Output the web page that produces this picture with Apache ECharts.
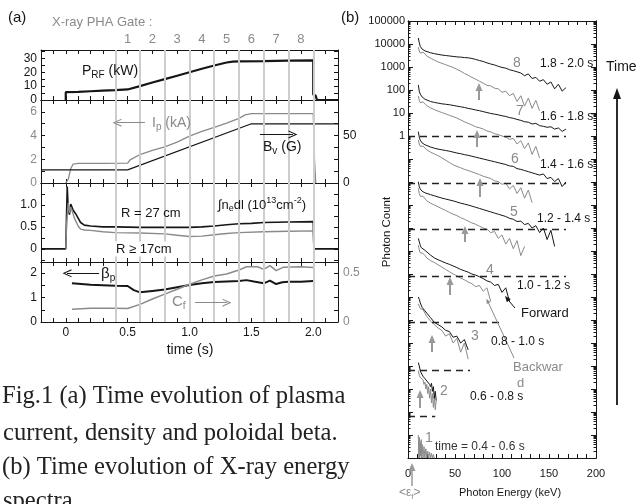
<!DOCTYPE html>
<html><head><meta charset="utf-8">
<script src="https://cdn.jsdelivr.net/npm/echarts@6/dist/echarts.min.js"></script>
<style>html,body{margin:0;padding:0;background:#fff}#c{width:636px;height:504px}</style>
</head><body><div id="c"></div><script>
// ---------------- panel (a) data ----------------
const gateLines   = [0.4, 0.6, 0.8, 1.0, 1.2, 1.4, 1.6, 1.8, 2.0];
const gateCenters = [0.5, 0.7, 0.9, 1.1, 1.3, 1.5, 1.7, 1.9];
const gateLabels  = ['1', '2', '3', '4', '5', '6', '7', '8'];
const timeLabels  = [0, 0.5, 1.0, 1.5, 2.0];

const prfT = [0, 0, 0.1, 0.2, 0.3, 0.4, 0.5, 0.6, 0.7, 0.8, 0.9, 1.0, 1.1, 1.2, 1.3, 1.35, 1.4, 1.6, 1.8, 2.0, 2.0, 2.02, 2.03, 2.2];
const prfV = [0, 5.6, 5.9, 6.3, 6.7, 7.1, 7.6, 10.0, 12.6, 15.0, 17.5, 20.0, 22.5, 24.8, 27.0, 27.6, 27.8, 28.0, 28.3, 28.5, 4, 3, 0, 0];

const ipT = [0.0, 0.02, 0.04, 0.06, 0.1, 0.3, 0.5, 0.52, 0.6, 0.7, 0.8, 0.9, 1.0, 1.1, 1.2, 1.3, 1.4, 1.45, 1.5, 1.7, 1.9, 2.0, 2.01, 2.02];
const ipV = [0, 0.3, 1.2, 1.6, 1.65, 1.65, 1.68, 1.95, 2.4, 2.75, 3.05, 3.45, 3.95, 4.35, 4.7, 5.05, 5.45, 5.75, 5.85, 5.85, 5.85, 5.85, 2, 0];

const bvT = [-0.2, 0.5, 1.5, 2.2];
const bvV = [13.8, 13.8, 62.4, 62.4];

const ne27T = [-0.2, 0, 0.005, 0.012, 0.02, 0.03, 0.04, 0.05, 0.06, 0.08, 0.1, 0.12, 0.15, 0.2, 0.3, 0.4, 0.6, 0.8, 1.0, 1.1, 1.2, 1.3, 1.4, 1.5, 1.6, 1.8, 2.0, 2.005, 2.2];
const ne27V = [0, 0, 0.6, 1.42, 0.9, 0.78, 1.02, 0.95, 0.88, 0.8, 0.7, 0.6, 0.54, 0.52, 0.5, 0.5, 0.49, 0.49, 0.49, 0.5, 0.52, 0.55, 0.57, 0.58, 0.6, 0.61, 0.62, 0, 0];

const ne17T = [0, 0.008, 0.02, 0.03, 0.04, 0.05, 0.07, 0.1, 0.12, 0.15, 0.2, 0.3, 0.4, 0.6, 0.8, 0.9, 1.0, 1.1, 1.2, 1.3, 1.4, 1.6, 1.8, 2.0, 2.005];
const ne17V = [0, 0.6, 1.05, 0.82, 0.95, 0.88, 0.7, 0.52, 0.45, 0.43, 0.42, 0.39, 0.37, 0.36, 0.34, 0.31, 0.28, 0.29, 0.32, 0.35, 0.37, 0.39, 0.4, 0.41, 0];

const betaT = [0.05, 0.2, 0.4, 0.5, 0.55, 0.6, 0.7, 0.8, 0.9, 1.0, 1.1, 1.2, 1.3, 1.4, 1.46, 1.52, 1.6, 1.65, 1.7, 1.75, 1.8, 1.9, 2.0];
const betaV = [1.58, 1.52, 1.48, 1.47, 1.3, 1.21, 1.27, 1.33, 1.42, 1.51, 1.58, 1.63, 1.65, 1.67, 1.71, 1.65, 1.58, 1.69, 1.55, 1.62, 1.64, 1.64, 1.67];

const cfT = [0.05, 0.2, 0.4, 0.5, 0.6, 0.7, 0.8, 0.9, 1.0, 1.1, 1.2, 1.3, 1.4, 1.46, 1.55, 1.6, 1.65, 1.7, 1.76, 1.9, 2.0];
const cfV = [0.13, 0.14, 0.14, 0.138, 0.18, 0.235, 0.285, 0.335, 0.385, 0.43, 0.47, 0.49, 0.53, 0.564, 0.564, 0.537, 0.576, 0.525, 0.56, 0.564, 0.557];

// axis ticks / labels of panel (a)
const prfTicks = [0, 5, 10, 15, 20, 25, 30, 35], prfLabels = [0, 10, 20, 30];
const ipTicks = [0, 1, 2, 3, 4, 5, 6, 7], ipLabels = [0, 2, 4, 6];
const bvTicks = [0, 12.5, 25, 37.5, 50, 62.5, 75, 87.5], bvLabels = [0, 50];
const neTicks = [-0.25, 0, 0.25, 0.5, 0.75, 1, 1.25, 1.5], neLabels = [0, 0.5, 1.0];
const betaTicks = [0, 0.5, 1, 1.5, 2], betaLabels = [0, 1, 2];
const cfTicks = [0, 0.125, 0.25, 0.375, 0.5], cfLabels = [0, 0.5];

// ---------------- panel (b) data : log10(photon count) ----------------
const specE = [11, 12, 13, 14, 15, 16, 18, 20, 24, 28, 32, 36, 40, 44, 48, 52, 56, 60, 64, 68, 72, 76, 80, 84, 88, 92, 96, 100, 104, 108, 112, 116, 120, 124, 128, 132, 136, 140, 144, 148, 152, 156, 160, 164, 168];
const fwd8 = [4.26, 4.05, 3.9, 3.82, 3.78, 3.74, 3.7, 3.66, 3.62, 3.58, 3.55, 3.52, 3.5, 3.48, 3.46, 3.44, 3.43, 3.41, 3.4, 3.37, 3.33, 3.28, 3.24, 3.18, 3.13, 3.09, 3.03, 2.98, 2.95, 2.88, 2.84, 2.79, 2.74, 2.62, 2.7, 2.5, 2.55, 2.38, 2.45, 2.25, 2.35, 2.05, 2.25, 1.95, 2.1];
const bwd8 = [3.86, 3.7, 3.6, 3.55, 3.58, 3.65, 3.6, 3.48, 3.38, 3.3, 3.22, 3.16, 3.1, 3.04, 2.98, 2.9, 2.82, 2.72, 2.64, 2.55, 2.47, 2.38, 2.3, 2.2, 2.18, 2.08, 2.05, 1.9, 1.95, 1.75, 1.85, 1.5, 1.75, 1.3, 1.65, 1.2, 1.55, 1.1];
const fwd7 = [2.22, 1.95, 1.82, 1.75, 1.7, 1.66, 1.6, 1.56, 1.5, 1.46, 1.43, 1.4, 1.38, 1.36, 1.33, 1.3, 1.27, 1.24, 1.2, 1.17, 1.13, 1.1, 1.06, 1.02, 0.98, 0.95, 0.92, 0.88, 0.85, 0.8, 0.77, 0.72, 0.68, 0.62, 0.6, 0.52, 0.55, 0.45, 0.42, 0.38, 0.4, 0.3, 0.35, 0.2, 0.3];
const bwd7 = [1.74, 1.55, 1.45, 1.4, 1.43, 1.48, 1.42, 1.32, 1.22, 1.15, 1.08, 1.02, 0.96, 0.9, 0.84, 0.78, 0.7, 0.62, 0.55, 0.48, 0.4, 0.36, 0.3, 0.22, 0.18, 0.1, 0.06, 0.0, -0.05, -0.15, -0.1, -0.35, -0.2, -0.55, -0.3, -0.8, -0.45, -0.95];
const fwd6 = [0.19, -0.05, -0.18, -0.25, -0.3, -0.33, -0.38, -0.42, -0.48, -0.53, -0.57, -0.6, -0.63, -0.66, -0.7, -0.74, -0.77, -0.81, -0.84, -0.88, -0.92, -0.96, -1.0, -1.04, -1.08, -1.12, -1.16, -1.2, -1.24, -1.3, -1.32, -1.42, -1.45, -1.5, -1.55, -1.6, -1.65, -1.7, -1.65, -1.85, -1.8, -1.98, -1.85, -2.2, -2.0];
const bwd6 = [-0.17, -0.35, -0.45, -0.5, -0.47, -0.44, -0.5, -0.6, -0.7, -0.78, -0.86, -0.95, -1.05, -1.15, -1.25, -1.32, -1.38, -1.45, -1.5, -1.56, -1.62, -1.68, -1.75, -1.8, -1.85, -1.95, -1.98, -2.1, -2.05, -2.3, -2.15, -2.5, -2.25, -2.7, -2.35, -2.9];
const fwd5 = [-1.99, -2.2, -2.3, -2.36, -2.4, -2.43, -2.47, -2.5, -2.55, -2.6, -2.65, -2.7, -2.74, -2.78, -2.82, -2.87, -2.92, -2.96, -3.0, -3.05, -3.1, -3.15, -3.2, -3.25, -3.3, -3.35, -3.4, -3.45, -3.5, -3.58, -3.62, -3.72, -3.7, -3.85, -3.8, -4.0, -3.9, -4.2, -4.0, -4.5, -4.1, -4.8];
const bwd5 = [-2.28, -2.5, -2.62, -2.68, -2.65, -2.62, -2.7, -2.82, -2.92, -3.0, -3.08, -3.16, -3.24, -3.32, -3.4, -3.46, -3.55, -3.62, -3.7, -3.78, -3.84, -3.92, -4.0, -4.05, -4.2, -4.15, -4.45, -4.3, -4.7, -4.45, -4.9, -4.55, -5.2, -4.8];
const fwd4 = [-4.45, -4.6, -4.75, -4.85, -4.9, -4.93, -4.97, -5.05, -5.18, -5.3, -5.38, -5.45, -5.52, -5.58, -5.65, -5.72, -5.8, -5.86, -5.92, -6.0, -6.05, -6.12, -6.2, -6.3, -6.35, -6.5, -6.45, -6.8, -6.6, -7.2];
const bwd4 = [-4.75, -4.95, -5.08, -5.15, -5.12, -5.1, -5.2, -5.3, -5.42, -5.5, -5.6, -5.7, -5.8, -5.9, -6.0, -6.08, -6.18, -6.25, -6.35, -6.42, -6.55, -6.5, -6.75, -6.6, -7.2];
const fwd3 = [-7.0, -7.1, -7.25, -7.35, -7.45, -7.5, -7.6, -7.7, -7.9, -8.1, -8.2, -8.3, -8.45, -8.5, -8.75, -8.7, -9.0, -8.85, -9.3];
const bwd3 = [-7.3, -7.4, -7.5, -7.55, -7.5, -7.55, -7.7, -7.85, -8.05, -8.2, -8.35, -8.45, -8.7, -8.6, -9.0, -8.8, -9.4, -9.0, -9.7];
const fineE = [11, 12, 13, 14, 15, 16, 17, 18, 19, 20, 21, 22, 23, 24, 25, 26, 27, 28, 29, 30];
const fwd2 = [-9.85, -10.0, -10.2, -10.3, -10.35, -10.45, -10.4, -10.55, -10.6, -10.5, -10.7, -10.65, -10.8, -10.9, -10.75, -11.1, -10.9, -11.4, -11.1, -11.5];
const bwd2 = [-10.2, -10.4, -10.5, -10.55, -10.5, -10.6, -10.8, -10.7, -11.0, -10.8, -11.2, -10.9, -11.4, -11.0, -11.6, -11.2, -11.8, -11.3, -11.9, -11.5];
const spikeE = [11, 11.5, 12, 12.5, 13, 13.5, 14, 14.5, 15, 16, 17, 18, 19, 20, 21, 22, 23, 24, 25, 26, 27, 28];
const spec1 = [-13.0, -14, -13.1, -14, -13.3, -13.9, -13.2, -14, -13.4, -14, -13.5, -14, -13.6, -14, -13.7, -14, -13.75, -14, -13.8, -14, -13.85, -14];

// dashed reference levels (log10) and their right ends (keV)
const refLog = [0, -2.04, -4.04, -6.09, -8.09, -10.17, -12.17];
const refEnd = [168, 168, 168, 168, 101, 66, 29];
// <eps_f> arrows : energy, log10 tail, log10 head
const efE = [75.5, 73.4, 76.6, 60.6, 44.7, 25.5, 12.8];
const efTail = [1.565, -0.478, -2.652, -4.609, -6.913, -9.39, -11.826];
const efHead = [2.13, 0.087, -2.0, -4.087, -6.304, -8.826, -11.217];

const decades = [1e-14, 1e-13, 1e-12, 1e-11, 1e-10, 1e-9, 1e-8, 1e-7, 1e-6, 1e-5, 1e-4, 1e-3, 1e-2, 1e-1, 1, 10, 100, 1000, 1e4, 1e5];
const countLabels = [1, 10, 100, 1000, 10000, 100000];
const energyLabels = [0, 50, 100, 150, 200];

// ---------------- styling ----------------
const SANS = '"Liberation Sans", Arial, Helvetica, sans-serif';
const SERIF = '"Liberation Serif", "Times New Roman", serif';
const INK = '#161616', GREY = '#8a8a8a', GATE = '#cdcdcd';
const minorLog = [];
for (let n = -14; n < 5; n++) for (let k = 2; k < 10; k++) minorLog.push(k * Math.pow(10, n));

const fmtDec = v => (v === 0 ? '0' : v.toFixed(1));
function tAxis(gi, pos, label) {
  return {type: 'value', gridIndex: gi, position: pos, min: -0.2, max: 2.2, interval: 0.1,
    axisLine: {show: true, onZero: false, lineStyle: {color: INK, width: 1}},
    axisTick: {show: true, inside: true, length: 4, lineStyle: {color: INK, width: 1}},
    axisLabel: label || {show: false}, splitLine: {show: false}};
}
function vAxis(gi, pos, min, max, ticks, labels, color, fmt) {
  return {type: 'value', gridIndex: gi, position: pos, min: min, max: max,
    axisLine: {show: true, onZero: false, lineStyle: {color: INK, width: 1}},
    axisTick: {show: true, inside: true, length: 4, customValues: ticks, lineStyle: {color: INK}},
    axisLabel: labels ? {show: true, customValues: labels, formatter: fmt || (v => String(v)), color: color,
      fontSize: 12, fontFamily: SANS, margin: pos === 'left' ? 4 : 5} : {show: false},
    splitLine: {show: false}};
}
function logAxis(pos, ticks, len, labels) {
  return {type: 'log', gridIndex: 4, position: pos, min: 1e-14, max: 1e5, logBase: 10,
    axisLine: {show: true, onZero: false, lineStyle: {color: INK, width: 1}},
    axisTick: {show: true, inside: true, length: len, customValues: ticks, lineStyle: {color: INK}},
    axisLabel: labels ? {show: true, customValues: labels, formatter: v => String(Math.round(v)),
      color: INK, fontSize: 11, fontFamily: SANS, margin: 3} : {show: false},
    splitLine: {show: false}, minorTick: {show: false}};
}

const xAxes = [
  tAxis(0, 'bottom'),
  tAxis(0, 'top', {show: true, customValues: gateCenters, color: GREY, fontSize: 13, fontFamily: SANS, margin: 4,
    formatter: v => gateLabels[gateCenters.findIndex(c => Math.abs(c - v) < 1e-6)]}),
  tAxis(1, 'bottom'), tAxis(1, 'top'),
  tAxis(2, 'bottom'), tAxis(2, 'top'),
  tAxis(3, 'bottom', {show: true, customValues: timeLabels, formatter: fmtDec, color: INK, fontSize: 12, fontFamily: SANS, margin: 5}),
  tAxis(3, 'top'),
  {type: 'value', gridIndex: 4, position: 'bottom', min: 0, max: 200, interval: 10,
    axisLine: {show: true, onZero: false, lineStyle: {color: INK}},
    axisTick: {show: true, inside: true, length: 4, lineStyle: {color: INK}},
    axisLabel: {show: true, customValues: energyLabels, color: INK, fontSize: 11, fontFamily: SANS, margin: 10},
    splitLine: {show: false}},
  {type: 'value', gridIndex: 4, position: 'top', min: 0, max: 200, interval: 10,
    axisLine: {show: true, onZero: false, lineStyle: {color: INK}},
    axisTick: {show: true, inside: true, length: 4, lineStyle: {color: INK}},
    axisLabel: {show: false}, splitLine: {show: false}}
];
const yAxes = [
  vAxis(0, 'left', 0, 36, prfTicks, prfLabels, INK),
  vAxis(0, 'right', 0, 36, prfTicks, null),
  vAxis(1, 'left', 0, 7, ipTicks, ipLabels, GREY),
  vAxis(1, 'right', 0, 87.5, bvTicks, bvLabels, INK),
  vAxis(2, 'left', -0.3, 1.5, neTicks, neLabels, INK, fmtDec),
  vAxis(2, 'right', -0.3, 1.5, neTicks, null),
  vAxis(3, 'left', 0, 2.45, betaTicks, betaLabels, INK),
  vAxis(3, 'right', 0, 0.6125, cfTicks, cfLabels, GREY, v => (v === 0 ? '0' : '0.5')),
  logAxis('left', decades, 5, countLabels),
  logAxis('right', decades, 5, null),
  logAxis('left', minorLog, 2.5, null),
  logAxis('right', minorLog, 2.5, null)
];

const chevron = 'path://M5,0 L10,10 L8.6,10 L5,2.8 L1.4,10 L0,10 Z';
function arrowPair(a, b, color, sym, size, width) {
  const ls = {color: color, width: width || 1, type: 'solid'};
  return [{coord: a, symbol: 'none', lineStyle: ls},
          {coord: b, symbol: sym, symbolSize: size, lineStyle: ls}];
}
function ln(xi, yi, t, v, color, width, extra) {
  return Object.assign({type: 'line', xAxisIndex: xi, yAxisIndex: yi, data: t.map((x, i) => [x, v[i]]),
    symbol: 'none', lineStyle: {color: color, width: width}, z: 3, silent: true}, extra || {});
}
function spec(logs, E, color) {
  return {type: 'line', xAxisIndex: 8, yAxisIndex: 8, data: logs.map((l, i) => [E[i], Math.pow(10, l)]),
    symbol: 'none', lineStyle: {color: color, width: 1}, z: 3, silent: true};
}
const arrowML = data => ({silent: true, label: {show: false}, animation: false, symbol: ['none', 'none'],
  lineStyle: {type: 'solid'}, data: data});

const series = [];
for (let g = 0; g < 4; g++) {
  series.push({type: 'line', xAxisIndex: 2 * g, yAxisIndex: 2 * g, data: [], z: 1, silent: true,
    markLine: {silent: true, symbol: ['none', 'none'], label: {show: false}, animation: false,
      lineStyle: {color: GATE, width: 2, type: 'solid'}, data: gateLines.map(v => ({xAxis: v}))}});
}
series.push(ln(0, 0, prfT, prfV, INK, 2.2));
series.push(ln(2, 2, ipT, ipV, GREY, 1.3, {markLine: arrowML([
  arrowPair([0.64, 5.09], [0.414, 5.09], GREY, chevron, [8, 9]),
  arrowPair([1.569, 4.1], [1.836, 4.1], INK, chevron, [8, 9])])}));
series.push(ln(2, 3, bvT, bvV, INK, 1.2));
series.push(ln(4, 4, ne27T, ne27V, INK, 1.6));
series.push(ln(4, 4, ne17T, ne17V, GREY, 1.4));
series.push(ln(6, 6, betaT, betaV, INK, 2, {markLine: arrowML([
  arrowPair([0.269, 1.99], [0.01, 1.99], INK, chevron, [8, 9])])}));
series.push(ln(6, 7, cfT, cfV, GREY, 1.5, {markLine: arrowML([
  arrowPair([1.045, 0.1975], [1.303, 0.1975], GREY, chevron, [8, 9])])}));

// panel (b)
[[fwd8, bwd8], [fwd7, bwd7], [fwd6, bwd6], [fwd5, bwd5], [fwd4, bwd4], [fwd3, bwd3]].forEach(p => {
  series.push(spec(p[1], specE, GREY));
  series.push(spec(p[0], specE, INK));
});
series.push(spec(bwd2, fineE, GREY));
series.push(spec(fwd2, fineE, INK));
series.push(spec(spec1, spikeE, GREY));

const refData = refLog.map((l, i) => {
  const ls = {color: '#222', width: 1.3, type: [7, 5]};
  return [{coord: [0, Math.pow(10, l)], symbol: 'none', lineStyle: ls},
          {coord: [refEnd[i], Math.pow(10, l)], symbol: 'none', lineStyle: ls}];
});
const efData = efE.map((e, i) => arrowPair([e, Math.pow(10, efTail[i])], [e, Math.pow(10, efHead[i])], '#999', 'triangle', [7, 8], 2));
const ptrData = [
  arrowPair([113.8, Math.pow(10, -7.48)], [105.2, Math.pow(10, -7.06)], INK, 'triangle', [5, 6], 1),
  arrowPair([112.8, Math.pow(10, -9.65)], [84.6, Math.pow(10, -7.17)], GREY, 'triangle', [4, 5], 1)
];
series.push({type: 'line', xAxisIndex: 8, yAxisIndex: 8, data: [], z: 4, silent: true,
  markLine: arrowML(refData.concat(efData, ptrData))});

// ---------------- texts ----------------
function T(x, y, text, size, color, extra) {
  return {type: 'text', x: x, y: y, silent: true, z: 50, style: Object.assign({text: text, fill: color || INK,
    fontSize: size || 12, fontFamily: SANS, verticalAlign: 'middle', align: 'left'}, extra || {})};
}
function rich(size, color) {
  const s = Math.round(size * 0.68);
  return {m: {fontSize: size, fontFamily: SANS, fill: color, lineHeight: size + 4},
          s: {fontSize: s, fontFamily: SANS, fill: color, lineHeight: s + 1, verticalAlign: 'bottom'},
          p: {fontSize: s, fontFamily: SANS, fill: color, lineHeight: s + 1, verticalAlign: 'top'}};
}
function RT(x, y, text, size, color) {
  return {type: 'text', x: x, y: y, silent: true, z: 50, style: {text: text, rich: rich(size, color),
    verticalAlign: 'middle', align: 'left', fill: color}};
}
const graphics = [
  T(8, 18, '(a)', 15),
  T(52, 22, 'X-ray PHA Gate :', 13, GREY),
  RT(82, 71, '{m|P}{s|RF}{m| (kW)}', 14, INK),
  RT(152, 123, '{m|I}{s|p}{m| (kA)}', 14, GREY),
  RT(263, 147, '{m|B}{s|v}{m| (G)}', 14, INK),
  T(121, 213, 'R = 27 cm', 13),
  RT(218, 205, '{m|\u222Bn}{s|e}{m|dl (10}{p|13}{m|cm}{p|-2}{m|)}', 13, INK),
  T(114, 249, 'R \u2265 17cm', 13, INK, {backgroundColor: '#fff', padding: [1, 2]}),
  RT(101, 274, '{m|\u03B2}{s|p}', 15, INK),
  RT(172, 302, '{m|C}{s|f}', 15, GREY),
  T(190, 350, 'time (s)', 14, INK, {align: 'center'}),
  // panel (b)
  T(341, 18, '(b)', 15),
  T(513, 63, '8', 14, GREY), T(540, 64, '1.8 - 2.0 s', 12),
  T(516, 111, '7', 14, GREY), T(540, 117, '1.6 - 1.8 s', 12),
  T(511, 159, '6', 14, GREY), T(540, 165, '1.4 - 1.6 s', 12),
  T(510, 212, '5', 14, GREY), T(537, 219, '1.2 - 1.4 s', 12),
  T(486, 270, '4', 14, GREY), T(517, 286, '1.0 - 1.2 s', 12),
  T(521, 313, 'Forward', 13),
  T(471, 336, '3', 14, GREY), T(491, 342, '0.8 - 1.0 s', 12),
  T(513, 367, 'Backwar', 13, GREY), T(517, 383, 'd', 13, GREY),
  T(440, 391, '2', 14, GREY), T(470, 397, '0.6 - 0.8 s', 12),
  T(425, 438, '1', 14, GREY), T(435, 447, 'time = 0.4 - 0.6 s', 12, '#333'),
  T(606, 67, 'Time', 14),
  RT(399, 493, '{m|<\u03B5}{s|f}{m|>}', 12, GREY),
  T(510, 493, 'Photon Energy (keV)', 11, INK, {align: 'center'}),
  {type: 'text', x: 387, y: 232, rotation: Math.PI / 2, silent: true, z: 50,
    style: {text: 'Photon Count', fill: INK, fontSize: 11.5, fontFamily: SANS, align: 'center', verticalAlign: 'middle'}},
  {type: 'line', silent: true, z: 50, shape: {x1: 617, y1: 405, x2: 617, y2: 97}, style: {stroke: INK, lineWidth: 1.8}},
  {type: 'polygon', silent: true, z: 50, shape: {points: [[617, 88], [613, 99], [621, 99]]}, style: {fill: INK}},
  {type: 'line', silent: true, z: 50, shape: {x1: 412, y1: 486, x2: 412, y2: 470}, style: {stroke: '#999', lineWidth: 1.5}},
  {type: 'polygon', silent: true, z: 50, shape: {points: [[412, 463], [408.5, 471], [415.5, 471]]}, style: {fill: '#999'}},
  // caption
  T(2, 397, 'Fig.1 (a) Time evolution of plasma', 24.6, '#222', {fontFamily: SERIF}),
  T(3, 434, 'current, density and poloidal beta.', 24.6, '#222', {fontFamily: SERIF}),
  T(2, 468, '(b) Time evolution of X-ray energy', 24.6, '#222', {fontFamily: SERIF}),
  T(3, 502, 'spectra.', 24.6, '#222', {fontFamily: SERIF})
];

const grids = [
  {left: 41, top: 50, width: 297, height: 50},
  {left: 41, top: 100, width: 297, height: 83},
  {left: 41, top: 183, width: 297, height: 79},
  {left: 41, top: 262, width: 297, height: 60},
  {left: 408, top: 21, width: 188, height: 437}
].map(g => Object.assign({show: false, containLabel: false, outerBoundsMode: 'none'}, g));

const chart = echarts.init(document.getElementById('c'), null, {renderer: 'canvas'});
chart.setOption({
  animation: false,
  backgroundColor: '#fff',
  textStyle: {fontFamily: SANS},
  grid: grids,
  xAxis: xAxes,
  yAxis: yAxes,
  series: series,
  graphic: graphics
});
</script></body></html>
